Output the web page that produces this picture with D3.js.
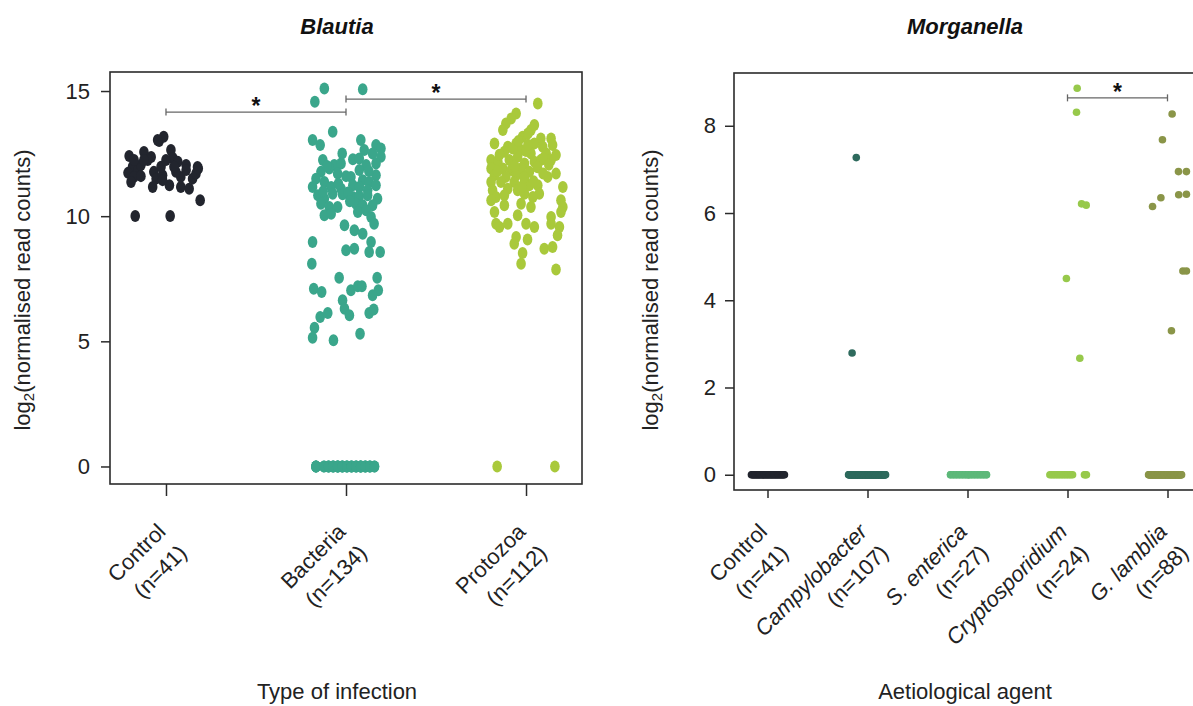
<!DOCTYPE html>
<html>
<head>
<meta charset="utf-8">
<script src="https://cdn.jsdelivr.net/npm/d3@7"></script>
<style>
  html, body { margin: 0; padding: 0; background: #fff; }
  svg { display: block; font-family: "Liberation Sans", Arial, Helvetica, sans-serif; }
</style>
</head>
<body>
<svg id="chart" width="1193" height="706"></svg>
<script>
// ---------- Blautia: log2 normalised read counts by type of infection ----------
const blautiaGroups = ["Control", "Bacteria", "Protozoa"];
const blautiaCounts = [41, 134, 112];
const blautiaTicks = [0, 5, 10, 15];
// [value, jitter] — jitter is the horizontal spread within the group, -1..1
const blautiaControl = [
  [13.0,-0.18],[13.17,-0.06],[12.4,-0.97],[12.56,-0.58],[12.36,-0.39],[12.64,0.13],[12.32,0.18],
  [12.17,0.31],[12.04,0.53],[11.96,0.83],[11.97,-0.88],[11.84,-0.74],[11.73,-1.0],[11.57,-0.84],
  [11.37,-0.92],[12.04,-0.66],[12.24,-0.48],[11.77,-0.32],[11.5,-0.26],[11.64,-0.09],[11.97,-0.13],
  [11.17,-0.35],[11.24,0.09],[11.44,-0.09],[11.57,0.39],[11.17,0.39],[11.1,0.61],[11.5,0.7],
  [11.7,0.79],[11.9,0.85],[11.77,0.26],[11.84,0.53],[10.64,0.9],[10.01,-0.81],[10.01,0.11],
  [13.04,-0.22],[12.24,-0.58],[12.24,0.0],[12.24,-0.84],[11.97,0.21],[11.6,-0.66]
];
const blautiaBacteria = [
  [15.1,-0.57],[15.07,0.44],[14.57,-0.82],[13.37,-0.35],[13.04,-0.88],[12.84,-0.68],[13.04,0.39],
  [12.84,0.79],[12.7,0.92],[12.64,0.48],[12.5,0.7],[12.37,0.92],[12.24,-0.61],[12.04,-0.31],
  [12.1,-0.13],[12.27,0.18],[12.3,0.35],[12.04,0.53],[12.1,0.79],[11.9,-0.44],[11.77,-0.66],
  [11.7,-0.22],[11.57,0.13],[11.84,0.35],[11.64,0.79],[11.5,-0.79],[11.37,-0.57],[11.44,0.44],
  [11.37,0.61],[11.24,0.79],[11.17,-0.88],[11.17,-0.39],[11.1,-0.13],[11.24,0.18],[11.17,0.35],
  [11.04,0.57],[10.84,-0.74],[10.7,-0.57],[10.9,-0.35],[10.88,-0.09],[10.77,0.18],[10.8,0.35],
  [10.84,0.57],[10.7,0.83],[10.5,-0.66],[10.37,-0.44],[10.5,0.26],[10.44,0.44],[10.44,0.7],
  [10.37,-0.22],[10.04,-0.57],[10.1,-0.39],[10.17,0.31],[10.24,0.53],[9.97,0.66],[9.7,0.74],
  [9.64,-0.04],[9.44,0.22],[9.3,0.44],[8.97,0.66],[8.97,-0.88],[8.64,0.0],[8.7,0.22],
  [8.57,0.61],[8.57,0.9],[8.1,-0.9],[7.54,-0.18],[7.54,0.82],[7.1,-0.85],[6.97,-0.64],
  [7.04,0.13],[7.2,0.31],[7.2,0.42],[7.04,0.85],[6.84,0.7],[6.64,-0.09],[6.3,-0.04],
  [6.04,0.09],[5.97,-0.68],[6.13,-0.48],[6.13,0.61],[6.27,0.73],[5.54,-0.83],[5.14,-0.88],
  [5.04,-0.33],[5.3,0.37],[12.0,-0.5],[11.6,0.0],[11.3,-0.2],[10.95,0.05],[11.8,0.6],
  [12.5,-0.1],[10.6,0.1],[11.0,-0.6]
];
const blautiaProtozoa = [
  [14.5,0.31],[14.1,-0.26],[13.9,-0.39],[13.7,-0.53],[13.44,-0.61],[13.64,0.22],[13.44,0.13],
  [13.17,-0.09],[13.1,0.39],[13.1,0.66],[12.9,-0.83],[12.77,-0.48],[12.9,-0.26],[12.9,0.22],
  [12.77,0.44],[12.84,0.7],[12.57,-0.57],[12.64,-0.13],[12.5,0.13],[12.5,0.53],[12.44,0.79],
  [12.24,-0.92],[12.17,-0.74],[12.24,-0.44],[12.37,-0.22],[12.1,-0.04],[12.17,0.22],[12.24,0.39],
  [12.24,0.66],[11.9,-0.92],[11.9,-0.61],[11.84,-0.39],[11.9,-0.13],[11.77,0.09],[11.64,-0.83],
  [11.57,-0.53],[11.64,-0.26],[11.5,-0.04],[11.57,0.57],[11.7,0.79],[11.37,-0.92],[11.37,-0.66],
  [11.37,-0.31],[11.24,0.09],[11.24,0.31],[11.17,0.97],[11.04,-0.88],[11.1,-0.48],[11.04,-0.22],
  [10.9,-0.04],[10.9,0.35],[10.77,-0.79],[10.84,-0.57],[10.77,0.18],[10.64,-0.92],[10.5,-0.13],
  [10.37,0.13],[10.64,0.92],[10.37,0.97],[10.44,-0.57],[10.17,-0.83],[10.04,-0.22],[10.17,0.92],
  [9.97,0.66],[9.7,-0.79],[9.7,-0.48],[9.7,0.0],[9.57,0.22],[9.7,0.66],[9.57,0.88],
  [9.57,-0.7],[9.24,0.83],[9.17,-0.26],[9.07,0.04],[8.9,-0.31],[8.7,0.48],[8.77,0.7],
  [8.53,-0.09],[8.1,-0.13],[7.87,0.79],[12.0,-0.3],[12.6,0.0],[13.3,0.05],[12.3,0.45],
  [11.95,0.3],[11.8,-0.75],[12.7,-0.35],[13.0,-0.2],[11.4,0.2],[11.7,0.45],[12.05,0.6],
  [11.2,-0.1],[12.45,-0.7],[11.55,-0.05],[12.85,0.05]
];
// zero read counts: [group, count, spread from, spread to, distinct positions]
const blautiaZeroRuns = [
  ["Bacteria", 4, -0.79, -0.79, 1], ["Bacteria", 36, -0.58, 0.75, 12],
  ["Protozoa", 2, -0.76, 0.76, 2]
];
// significance: [from group, to group, level, label]
const blautiaBrackets = [["Control", "Bacteria", 14.16, "*"], ["Bacteria", "Protozoa", 14.68, "*"]];

// ---------- Morganella: log2 normalised read counts by aetiological agent ----------
const morganellaGroups = ["Control", "Campylobacter", "S. enterica", "Cryptosporidium", "G. lamblia"];
const morganellaCounts = [41, 107, 27, 24, 88];
const morganellaTicks = [0, 2, 4, 6, 8];
const morganellaCampylobacter = [[7.27,-0.51],[2.79,-0.7]];
const morganellaCryptosporidium = [[8.86,0.44],[8.31,0.41],[6.21,0.64],[6.18,0.85],[4.5,-0.05],[2.67,0.56]];
const morganellaGLamblia = [
  [8.27,0.21],[7.68,-0.23],[6.95,0.5],[6.95,0.86],[6.42,0.51],[6.43,0.86],
  [6.35,-0.3],[6.15,-0.68],[4.67,0.7],[4.67,0.86],[3.3,0.18]
];
const morganellaZeroRuns = [
  ["Control", 41, -0.73, 0.77, 41], ["Campylobacter", 105, -0.86, 0.82, 105],
  ["S. enterica", 27, -0.77, 0.86, 13], ["Cryptosporidium", 15, -0.8, 0.23, 15],
  ["Cryptosporidium", 3, 0.77, 0.86, 3], ["G. lamblia", 77, -0.86, 0.64, 77]
];
const morganellaBrackets = [["Cryptosporidium", "G. lamblia", 8.64, "*"]];

// ---------- drawing ----------
const svg = d3.select("#chart");
const FONT = 22;

function expandZeros(runs) {
  const out = [];
  runs.forEach(([g, n, a, b, slots]) => {
    d3.range(n).forEach(i => {
      const k = slots > 1 ? Math.round(i * (slots - 1) / Math.max(1, n - 1)) / (slots - 1) : 0;
      out.push({ group: g, value: 0, jitter: a + (b - a) * k });
    });
  });
  return out;
}

function drawPanel(cfg) {
  const { box, groups, counts, ticks, domain, points, zeroRuns, brackets, colors,
          title, xTitle, padding, spread, rx, ry, xTickLen, labelDrop, tickPad, yLabelX } = cfg;
  const g = svg.append("g");

  const x = d3.scalePoint().domain(groups).range([box.left, box.right]).padding(padding);
  const y = d3.scaleLinear().domain(domain).range([box.bottom, box.top]);
  const color = d3.scaleOrdinal().domain(groups).range(colors);
  const half = x.step() * spread;

  const data = [];
  Object.entries(points).forEach(([grp, arr]) => arr.forEach(([v, j]) => data.push({ group: grp, value: v, jitter: j })));
  const all = expandZeros(zeroRuns).concat(data);

  // points
  g.append("g").selectAll("ellipse").data(all).join("ellipse")
    .attr("cx", d => x(d.group) + d.jitter * half)
    .attr("cy", d => y(d.value))
    .attr("rx", rx).attr("ry", ry)
    .attr("fill", d => color(d.group));

  // frame
  g.append("rect")
    .attr("x", box.left).attr("y", box.top)
    .attr("width", box.right - box.left).attr("height", box.bottom - box.top)
    .attr("fill", "none").attr("stroke", "#2b2b2b").attr("stroke-width", 1.6);

  // y axis
  const yAxis = g.append("g").attr("transform", `translate(${box.left},0)`)
    .call(d3.axisLeft(y).tickValues(ticks).tickSize(9).tickPadding(tickPad).tickFormat(d3.format("d")));
  yAxis.select(".domain").remove();
  yAxis.selectAll("line").attr("stroke", "#2b2b2b").attr("stroke-width", 1.5);
  yAxis.selectAll("text").attr("font-size", FONT).attr("fill", "#222")
    .attr("font-family", "Liberation Sans, Arial, sans-serif");

  // x axis ticks
  const xAxis = g.append("g").attr("transform", `translate(0,${box.bottom})`)
    .call(d3.axisBottom(x).tickSize(xTickLen).tickFormat(""));
  xAxis.select(".domain").remove();
  xAxis.selectAll("line").attr("stroke", "#2b2b2b").attr("stroke-width", 1.5);

  // rotated two-line category labels
  const lab = g.append("g").selectAll("text").data(groups).join("text")
    .attr("transform", d => `translate(${x(d) + 1},${labelDrop}) rotate(-45)`)
    .attr("text-anchor", "end").attr("font-size", FONT).attr("fill", "#222");
  lab.append("tspan").attr("x", 0).attr("y", 0)
    .attr("font-style", d => d === "Control" || groups.length < 4 ? "normal" : "italic")
    .text(d => d);
  lab.append("tspan").attr("x", 0).attr("y", 30)
    .text((d, i) => `(n=${counts[i]})`);

  // significance brackets
  brackets.forEach(([a, b, lvl, label]) => {
    const yy = y(lvl), x1 = x(a), x2 = x(b);
    const br = g.append("g").attr("stroke", "#666").attr("stroke-width", 1.3);
    br.append("line").attr("x1", x1).attr("x2", x2).attr("y1", yy).attr("y2", yy);
    br.append("line").attr("x1", x1).attr("x2", x1).attr("y1", yy - 3.5).attr("y2", yy + 3.5);
    br.append("line").attr("x1", x2).attr("x2", x2).attr("y1", yy - 3.5).attr("y2", yy + 3.5);
    g.append("text").attr("x", (x1 + x2) / 2).attr("y", yy + 2)
      .attr("text-anchor", "middle").attr("font-size", 23).attr("font-weight", "bold")
      .attr("fill", "#111").text(label);
  });

  // titles
  g.append("text").attr("x", cfg.titleX).attr("y", 34).attr("text-anchor", "middle")
    .attr("font-size", FONT).attr("font-weight", "bold").attr("font-style", "italic")
    .attr("fill", "#111").text(title);
  g.append("text").attr("x", cfg.titleX).attr("y", 699).attr("text-anchor", "middle")
    .attr("font-size", FONT).attr("fill", "#222").text(xTitle);

  const yl = g.append("text").attr("transform", `translate(${yLabelX},290) rotate(-90)`)
    .attr("text-anchor", "middle").attr("font-size", FONT).attr("fill", "#222");
  yl.append("tspan").text("log");
  yl.append("tspan").attr("font-size", 15).attr("dy", 4).text("2");
  yl.append("tspan").attr("dy", -4).text("(normalised read counts)");
}

drawPanel({
  box: { left: 110, right: 582, top: 72, bottom: 484 },
  groups: blautiaGroups, counts: blautiaCounts, ticks: blautiaTicks,
  domain: [-0.7, 15.76],
  points: { Control: blautiaControl, Bacteria: blautiaBacteria, Protozoa: blautiaProtozoa },
  zeroRuns: blautiaZeroRuns, brackets: blautiaBrackets,
  colors: ["#22252e", "#3aa68b", "#a9c93b"],
  title: "Blautia", xTitle: "Type of infection", titleX: 337,
  padding: 0.311, spread: 0.211, rx: 4.8, ry: 6, xTickLen: 12, labelDrop: 533, tickPad: 11, yLabelX: 30
});

drawPanel({
  box: { left: 734, right: 1201, top: 73, bottom: 490 },
  groups: morganellaGroups, counts: morganellaCounts, ticks: morganellaTicks,
  domain: [-0.35, 9.21],
  points: { Campylobacter: morganellaCampylobacter, Cryptosporidium: morganellaCryptosporidium, "G. lamblia": morganellaGLamblia },
  zeroRuns: morganellaZeroRuns, brackets: morganellaBrackets,
  colors: ["#22252e", "#2e6a5d", "#5db879", "#97c94b", "#8a9548"],
  title: "Morganella", xTitle: "Aetiological agent", titleX: 965,
  padding: 0.335, spread: 0.22, rx: 3.8, ry: 3.8, xTickLen: 8, labelDrop: 533, tickPad: 9, yLabelX: 658
});
</script>
</body>
</html>
